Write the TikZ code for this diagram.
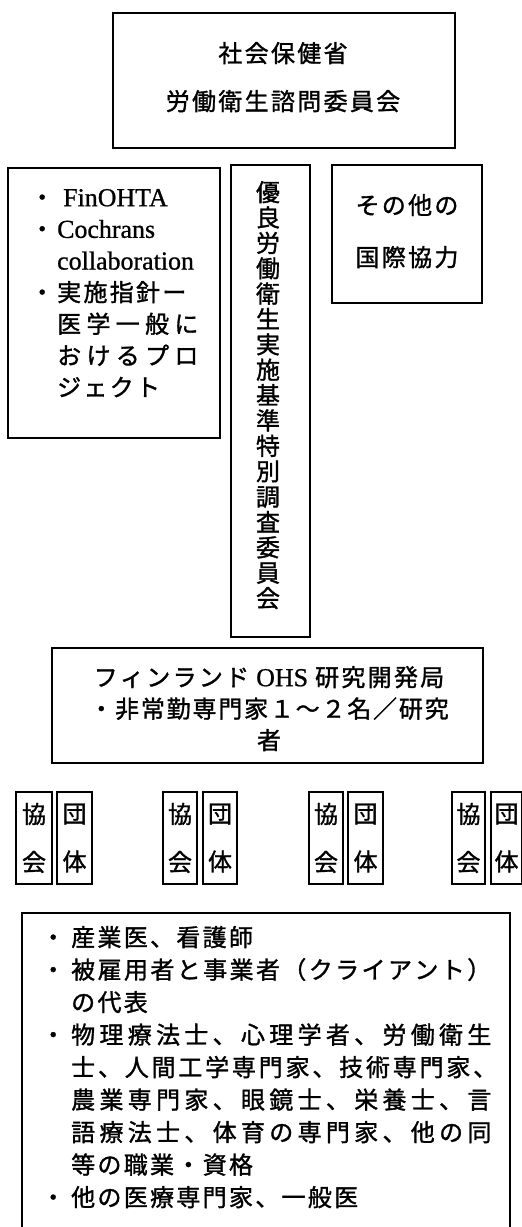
\documentclass[tikz,border=0pt]{standalone}
\usepackage{fontspec}
\setmainfont{Liberation Serif}[Scale=1.08,FakeBold=0.8]
\newfontfamily\jp{Noto Sans CJK JP}[FakeBold=1.3]
\def\trend{TREND}
\newcommand\jtrack[2][2.3pt]{\def\trkern{#1}\jtrA#2\trend}
\def\jtrA#1{#1\jtrB}
\def\jtrB#1{\ifx#1\trend\else\kern\trkern\relax#1\expandafter\jtrB\fi}
\newcommand\firstline{\rule{0pt}{24pt}}
\begin{document}
\begin{tikzpicture}[x=1pt,y=-1pt,
  box/.style={draw,line width=1.6pt,rectangle,inner sep=0pt},
  txt/.style={inner sep=0pt},
  small/.style={box,minimum width=35pt,minimum height=92pt,align=center,font=\fontsize{24}{48}\jp}]
\useasboundingbox (0,0) rectangle (522,1227);
% boxes
\node[box,minimum width=342pt,minimum height=135pt] (moh) at (284,80.5) {};
\node[box,minimum width=212pt,minimum height=270pt] (proj) at (114,303) {};
\node[box,minimum width=79pt,minimum height=472pt] (comm) at (270.5,401) {};
\node[box,minimum width=150pt,minimum height=138pt] (intl) at (407,234) {};
\node[box,minimum width=431pt,minimum height=115pt] (ohs) at (267.5,705.5) {};
\node[box,minimum width=488pt,minimum height=327pt] (prof) at (266,1076.5) {};
% texts
\node[txt,align=center,anchor=north,font=\fontsize{24}{48}\jp] (mohtext) at (283,38)
  {\firstline\jtrack{社会保健省}\\\jtrack{労働衛生諮問委員会}};
\node[txt,align=left,anchor=north west,font=\fontsize{24}{31.67}\jp] (projtext) at (57,182)
  {\firstline\llap{・\kern3pt}\kern6pt{\rmfamily FinOHTA}\\
   \llap{・\kern3pt}{\rmfamily Cochrans}\\
   {\rmfamily collaboration}\\
   \llap{・\kern3pt}\jtrack{実施指針ー}\\
   \jtrack[5.3pt]{医学一般に}\\
   \jtrack[5.3pt]{おけるプロ}\\
   \jtrack{ジェクト}};
\node[txt,align=center,anchor=north,font=\fontsize{24}{25.375}\jp] (commtext) at (268,177)
  {\firstline 優\\良\\労\\働\\衛\\生\\実\\施\\基\\準\\特\\別\\調\\査\\委\\員\\会};
\node[txt,align=center,anchor=north,font=\fontsize{24}{52}\jp] (intltext) at (407,190)
  {\firstline\jtrack{その他の}\\\jtrack{国際協力}};
\node[txt,align=center,anchor=north,font=\fontsize{24}{31.5}\jp] (ohstext) at (269,662)
  {\firstline\jtrack{フィンランド}\kern7pt{\rmfamily OHS}\kern7pt\jtrack{研究開発局}\\
   \jtrack[1.8pt]{・非常勤専門家１～２名／研究}\\者};
\node[txt,align=left,anchor=north west,font=\fontsize{24}{32.5}\jp] (proftext) at (71,922)
  {\firstline\llap{・\kern6pt}\jtrack{産業医、看護師}\\
   \llap{・\kern6pt}\jtrack[2.4pt]{被雇用者と事業者（クライアント）}\\
   \jtrack{の代表}\\
   \llap{・\kern6pt}\jtrack[4.3pt]{物理療法士、心理学者、労働衛生}\\
   \jtrack[2.8pt]{士、人間工学専門家、技術専門家、}\\
   \jtrack[4.3pt]{農業専門家、眼鏡士、栄養士、言}\\
   \jtrack[4.3pt]{語療法士、体育の専門家、他の同}\\
   \jtrack{等の職業・資格}\\
   \llap{・\kern6pt}\jtrack{他の医療専門家、一般医}};
% association / organisation pairs
\node[small,minimum width=36pt] (k1) at (34,838) {協\\会};
\node[small] (d1) at (74.5,838) {団\\体};
\node[small,minimum width=34pt] (k2) at (180,838) {協\\会};
\node[small,minimum width=34pt] (d2) at (220,838) {団\\体};
\node[small,minimum width=34pt] (k3) at (326,838) {協\\会};
\node[small] (d3) at (365.5,838) {団\\体};
\node[small,minimum width=33pt] (k4) at (468.5,838) {協\\会};
\node[small,minimum width=31pt] (d4) at (506.5,838) {団\\体};
\end{tikzpicture}
\end{document}
